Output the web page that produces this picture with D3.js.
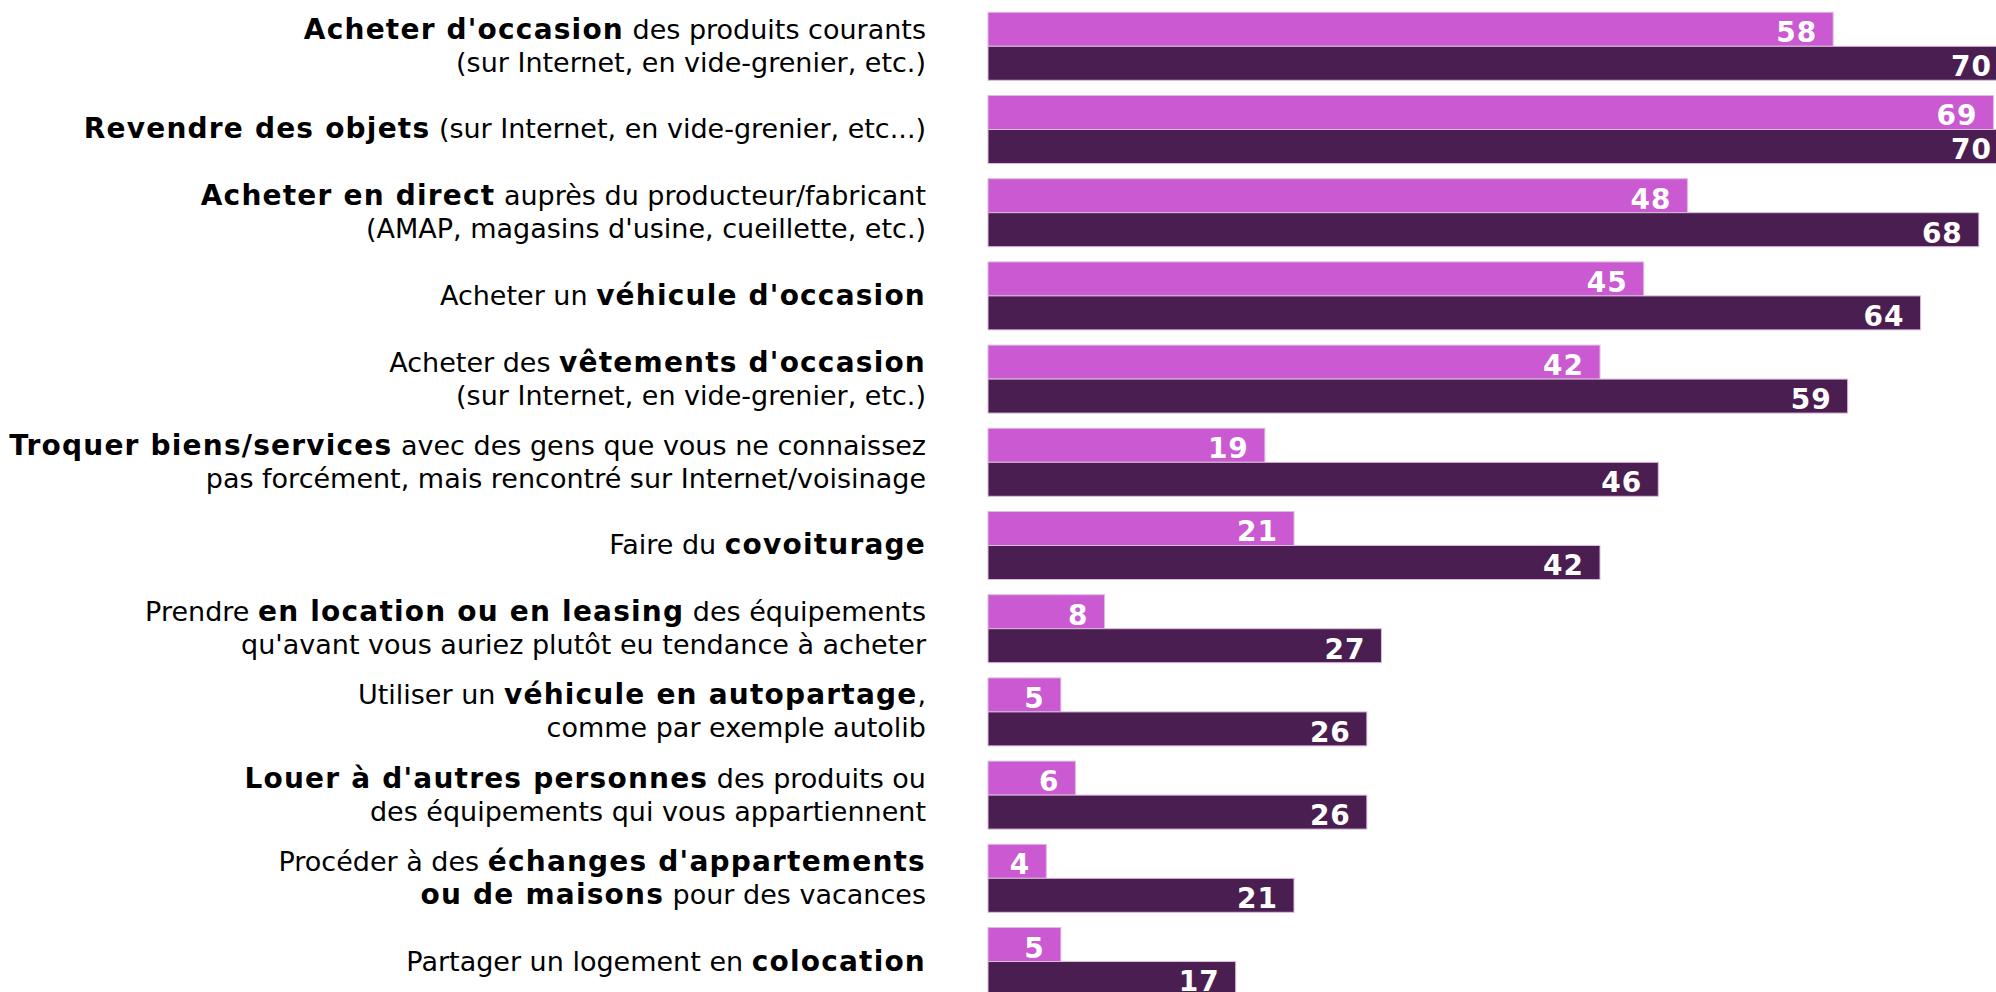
<!DOCTYPE html>
<html>
<head>
<meta charset="utf-8">
<script src="https://cdn.jsdelivr.net/npm/d3@7"></script>
<style>
  body { margin: 0; background: #fff; }
  svg { display: block; }
</style>
</head>
<body>
<script>
const width = 1996;
const height = 992;

// ** marks bold parts, | marks a line break
const categories = [
  "**Acheter d'occasion** des produits courants|(sur Internet, en vide-grenier, etc.)",
  "**Revendre des objets** (sur Internet, en vide-grenier, etc...)",
  "**Acheter en direct** auprès du producteur/fabricant|(AMAP, magasins d'usine, cueillette, etc.)",
  "Acheter un **véhicule d'occasion**",
  "Acheter des **vêtements d'occasion**|(sur Internet, en vide-grenier, etc.)",
  "**Troquer biens/services** avec des gens que vous ne connaissez|pas forcément, mais rencontré sur Internet/voisinage",
  "Faire du **covoiturage**",
  "Prendre **en location ou en leasing** des équipements|qu'avant vous auriez plutôt eu tendance à acheter",
  "Utiliser un **véhicule en autopartage**,|comme par exemple autolib",
  "**Louer à d'autres personnes** des produits ou|des équipements qui vous appartiennent",
  "Procéder à des **échanges d'appartements|ou de maisons** pour des vacances",
  "Partager un logement en **colocation**"
];

const series = ['serie1', 'serie2'];
const serie1 = [58, 69, 48, 45, 42, 19, 21, 8, 5, 6, 4, 5];
const serie2 = [70, 70, 68, 64, 59, 46, 42, 27, 26, 26, 21, 17];
const colors = ['#cb5ad2', '#4b1e51'];

const data = categories.map((c, i) => ({ i, label: c, values: [serie1[i], serie2[i]] }));

const svg = d3.select('body')
  .append('svg')
  .attr('width', width)
  .attr('height', height);

const x = d3.scaleLinear()
  .domain([0, 70])
  .range([988, 2008]);

const y = d3.scaleBand()
  .domain(d3.range(categories.length))
  .range([12.3, 995.5])
  .paddingInner(0.183)
  .paddingOuter(0);

const ySub = d3.scaleBand()
  .domain(series)
  .range([0, y.bandwidth()]);

const groups = svg.append('g')
  .selectAll('g')
  .data(data)
  .enter()
  .append('g')
  .attr('transform', d => `translate(0,${y(d.i)})`);

const bars = groups.selectAll('g.bar')
  .data(d => d.values.map((v, k) => ({ v, k })))
  .enter()
  .append('g')
  .attr('class', 'bar');

bars.append('rect')
  .attr('x', x(0))
  .attr('y', d => ySub(series[d.k]))
  .attr('width', d => x(d.v) - x(0))
  .attr('height', ySub.bandwidth())
  .style('fill', d => colors[d.k])
  .style('stroke', '#dcbcde')
  .style('stroke-width', '1px');

bars.append('text')
  .attr('x', d => x(d.v) - 16)
  .attr('y', d => ySub(series[d.k]) + ySub.bandwidth() / 2 + 13)
  .attr('text-anchor', 'end')
  .style('font-family', '"DejaVu Sans", Verdana, sans-serif')
  .style('font-weight', 'bold')
  .style('font-size', '28px')
  .style('letter-spacing', '1px')
  .style('fill', '#fff')
  .text(d => d.v);

// category labels
const lineGap = 33;
groups.each(function (d) {
  const lines = d.label.split('|');
  const cy = y.bandwidth() / 2;
  let bold = false;
  lines.forEach((line, li) => {
    const t = d3.select(this).append('text')
      .attr('x', 926)
      .attr('y', cy + (li - (lines.length - 1) / 2) * lineGap + 9)
      .attr('text-anchor', 'end')
      .style('font-family', '"DejaVu Sans", Verdana, sans-serif')
      .style('font-size', '27px')
      .style('fill', '#000');
    line.split('**').forEach((part, pi) => {
      if (pi > 0) bold = !bold;
      if (part === '') return;
      t.append('tspan')
        .style('font-weight', bold ? 'bold' : 'normal')
        .style('font-size', bold ? '28px' : '27px')
        .style('letter-spacing', bold ? '1.2px' : '0px')
        .text(part);
    });
  });
});
</script>
</body>
</html>
